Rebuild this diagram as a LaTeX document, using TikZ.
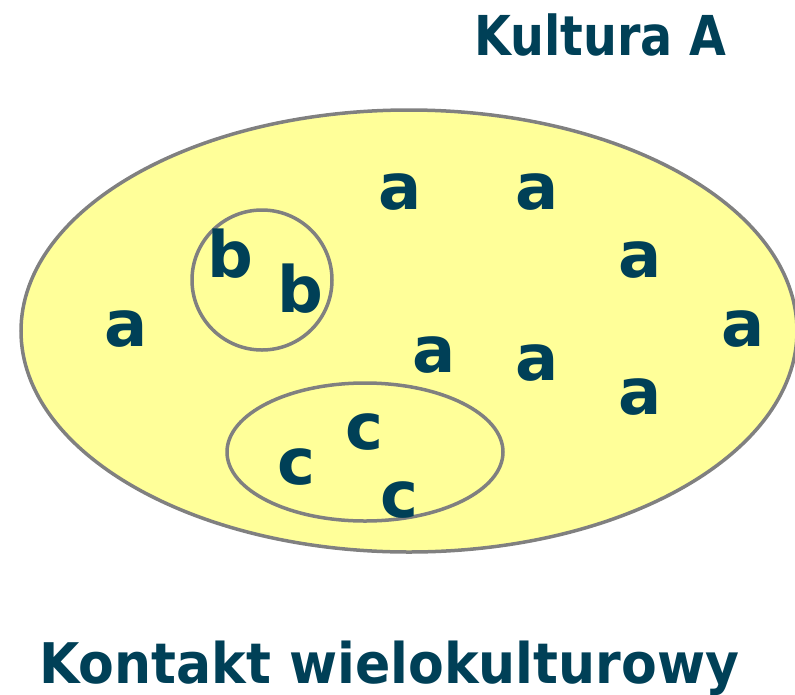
\documentclass[tikz,border=0pt]{standalone}
\usepackage{fontspec}
\setmainfont{DejaVu Sans}
\usetikzlibrary{shapes.geometric}
\definecolor{ink}{RGB}{0,64,87}
\definecolor{pale}{RGB}{255,255,153}
\definecolor{rim}{RGB}{128,128,128}

\begin{document}
\begin{tikzpicture}[x=1pt, y=-1pt,
    region/.style={draw=rim, line width=3.5pt, fill=pale, inner sep=0pt},
    letter/.style={text=ink, font=\fontsize{64}{64}\selectfont\bfseries, inner sep=0pt, anchor=base},
    title/.style={text=ink, inner sep=0pt, anchor=base west}]
    \useasboundingbox (0,0) rectangle (795,694);
    \node[region, ellipse, minimum width=776pt, minimum height=442pt] (kultura) at (409,331) {};
    \node[region, circle, minimum size=140pt] (grupaB) at (262,280) {};
    \node[region, ellipse, minimum width=276pt, minimum height=138pt] (grupaC) at (365,452) {};
    % litery kultury A
    \foreach \x/\y [count=\i] in {400/209, 537/209, 640/277, 126/346, 743/346, 434/372, 537/380, 640/414}
        \node[letter] (a\i) at (\x,\y) {a};
    \node[letter] (b1) at (230,277) {b};
    \node[letter] (b2) at (300,312) {b};
    \node[letter] (c1) at (364,449) {c};
    \node[letter] (c2) at (296,484) {c};
    \node[letter] (c3) at (399,517) {c};
    % napisy
    \node[title, font=\fontsize{55}{55}\selectfont\bfseries] (nazwa) at (474,55) {\scalebox{0.865}[1]{Kultura A}};
    \node[title, font=\fontsize{56}{56}\selectfont\bfseries] (podpis) at (39,683) {\scalebox{0.93}[1]{Kontakt wielokulturowy}};
\end{tikzpicture}
\end{document}
